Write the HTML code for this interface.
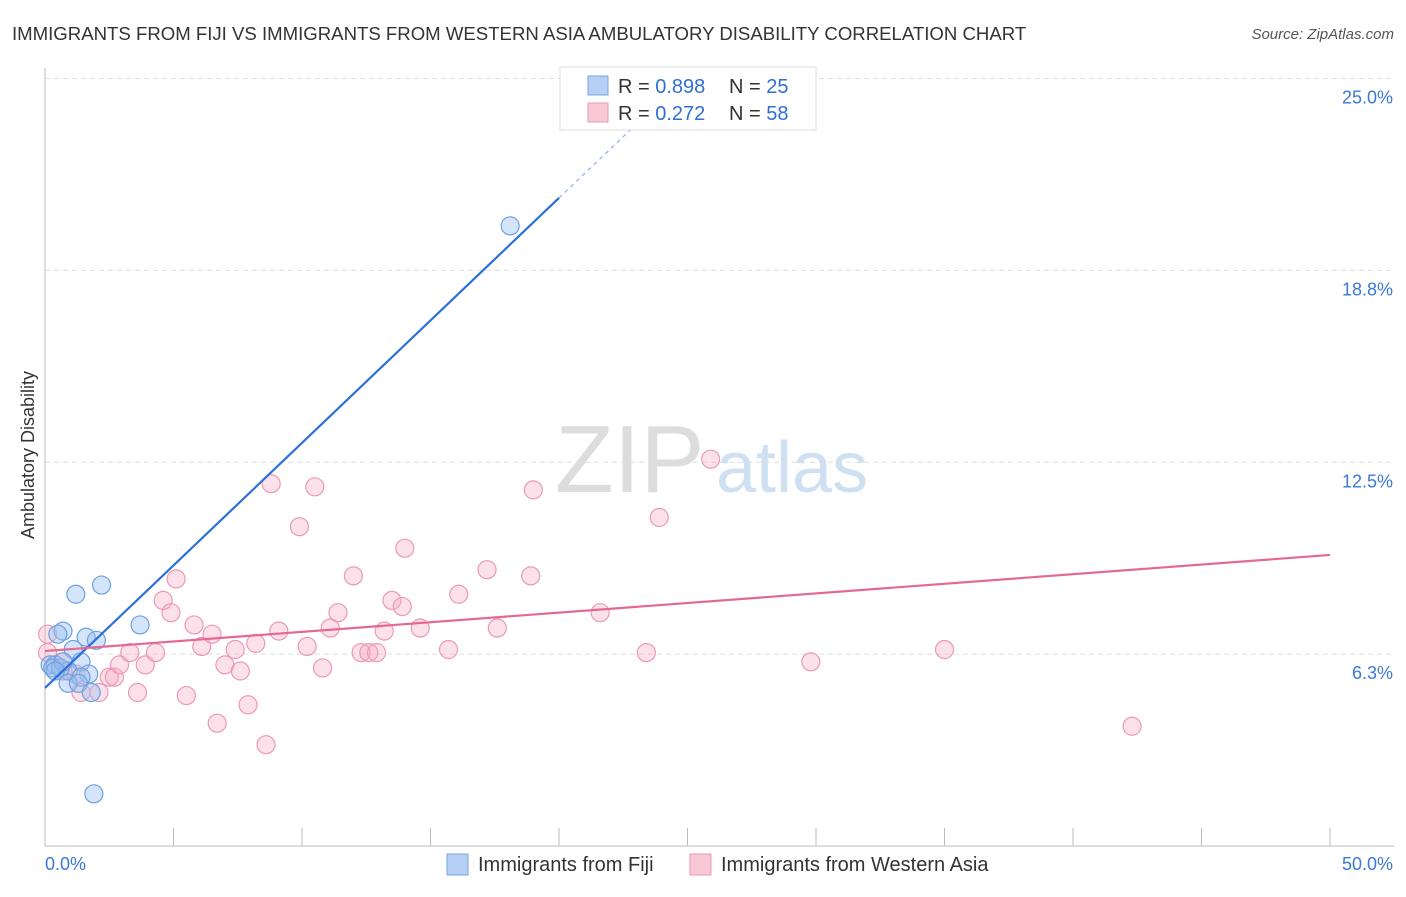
<!DOCTYPE html>
<html><head><meta charset="utf-8"><style>
body{margin:0;background:#fff;font-family:"Liberation Sans",sans-serif;}
svg text{font-family:"Liberation Sans",sans-serif;}
</style></head><body>
<svg id="c" width="1406" height="892">
<text x="12" y="40" font-size="18.6" fill="#333">IMMIGRANTS FROM FIJI VS IMMIGRANTS FROM WESTERN ASIA AMBULATORY DISABILITY CORRELATION CHART</text>
<text x="1394" y="39" font-size="15" fill="#555" font-style="italic" text-anchor="end">Source: ZipAtlas.com</text>
<text x="555" y="492" font-size="96" fill="#ddd" font-family="Liberation Serif">ZIP</text>
<text x="716" y="492" font-size="72" fill="#cfe0f3">atlas</text>
<text x="34" y="455" font-size="18" fill="#333" text-anchor="middle" transform="rotate(-90 34 455)">Ambulatory Disability</text>
<g id="grid"></g><g id="pts"></g><g id="lines"></g>
<g>
<rect x="560" y="67" width="256" height="63" fill="#fff" stroke="#ddd"/>
<rect x="588" y="76" width="20" height="19" fill="#b5cff5" stroke="#7aa3e0"/>
<rect x="588" y="103" width="20" height="19" fill="#f9c8d6" stroke="#e89ab0"/>
<text x="618" y="93" font-size="20" fill="#333">R = <tspan fill="#2f6fd6">0.898</tspan></text>
<text x="729" y="93" font-size="20" fill="#333">N = <tspan fill="#2f6fd6">25</tspan></text>
<text x="618" y="120" font-size="20" fill="#333">R = <tspan fill="#2f6fd6">0.272</tspan></text>
<text x="729" y="120" font-size="20" fill="#333">N = <tspan fill="#2f6fd6">58</tspan></text>
</g>
<g>
<rect x="447" y="854" width="21" height="21" fill="#b5cff5" stroke="#7aa3e0"/>
<text x="478" y="871" font-size="20" fill="#333">Immigrants from Fiji</text>
<rect x="690" y="854" width="21" height="21" fill="#f9c8d6" stroke="#e89ab0"/>
<text x="721" y="871" font-size="20" fill="#333">Immigrants from Western Asia</text>
</g>
</svg>
<script>
const yTicks=[6.3,12.5,18.8,25.0];
const yTickVals=[6.25,12.5,18.75,25];
const fijiX=[18.1,2.2,1.2,3.7,0.7,0.5,1.6,2.0,1.1,1.4,0.2,0.4,0.3,0.6,0.9,1.7,1.4,0.9,1.3,1.8,1.9,0.7,0.4];
const fijiY=[20.2,8.5,8.2,7.2,7.0,6.9,6.8,6.7,6.4,6.0,5.9,5.9,5.8,5.8,5.7,5.6,5.5,5.3,5.3,5.0,1.7,6.0,5.7];
const waX=[0.1,0.1,0.7,0.7,1.2,1.4,2.1,2.5,2.7,2.9,3.3,3.6,3.9,4.3,4.6,4.9,5.1,5.5,5.8,6.1,6.5,6.7,7.0,7.4,7.6,7.9,8.2,8.6,8.8,9.1,9.9,10.2,10.5,10.8,11.1,11.4,12.0,12.3,12.6,12.9,13.2,13.5,13.9,14.0,14.6,15.7,16.1,17.2,17.6,18.9,19.0,21.6,23.4,23.9,25.9,29.8,35.0,42.3];
const waY=[6.9,6.3,6.0,5.7,5.6,5.0,5.0,5.5,5.5,5.9,6.3,5.0,5.9,6.3,8.0,7.6,8.7,4.9,7.2,6.5,6.9,4.0,5.9,6.4,5.7,4.6,6.6,3.3,11.8,7.0,10.4,6.5,11.7,5.8,7.1,7.6,8.8,6.3,6.3,6.3,7.0,8.0,7.8,9.7,7.1,6.4,8.2,9.0,7.1,8.8,11.6,7.6,6.3,10.7,12.6,6.0,6.4,3.9];
const fijiLine=[0,5.15,0.798];
const waLine=[6.35,9.48];
const X=v=>45+v*25.7, Y=v=>846-v*30.7;
const NS='http://www.w3.org/2000/svg';
function mk(t,a,p){const e=document.createElementNS(NS,t);for(const k in a)e.setAttribute(k,a[k]);p.appendChild(e);return e;}
const svg=document.getElementById('c'),g=document.getElementById('grid'),pts=document.getElementById('pts'),ln=document.getElementById('lines');
mk('line',{x1:45,y1:68,x2:45,y2:846,stroke:'#bbb'},g);
mk('line',{x1:45,y1:846,x2:1394,y2:846,stroke:'#bbb'},g);
for(let i=0;i<=10;i++){const t=mk('line',{x1:X(i*5),x2:X(i*5),y1:846,y2:828,stroke:'#bbb'},g);}
yTickVals.forEach((v,i)=>{
 const l=mk('line',{x1:45,x2:1394,y1:Y(v),y2:Y(v),stroke:'#ddd','stroke-dasharray':'5,4'},g);
 
 
 const t=mk('text',{x:1393,y:Y(v)+25,'font-size':18,fill:'#3c78d8','text-anchor':'end'},g);t.textContent=yTicks[i].toFixed(1)+'%';
 
 
});
let t0=mk('text',{x:45,y:870,'font-size':18,fill:'#3c78d8'},g);t0.textContent='0.0%';


let t1=mk('text',{x:1393,y:870,'font-size':18,fill:'#3c78d8','text-anchor':'end'},g);t1.textContent='50.0%';


waX.forEach((x,i)=>{const c=mk('circle',{cx:X(x),cy:Y(waY[i]),r:9,fill:'rgba(247,170,195,0.35)',stroke:'#eb9ab3','stroke-width':1.2},pts);
 
 });
fijiX.forEach((x,i)=>{const c=mk('circle',{cx:X(x),cy:Y(fijiY[i]),r:9,fill:'rgba(150,190,240,0.4)',stroke:'#6f9fe0','stroke-width':1.2},pts);
 
 });
const fl=x=>fijiLine[1]+fijiLine[2]*x;
let a=mk('line',{x1:X(0),y1:Y(fl(0)),x2:X(20),y2:Y(fl(20)),stroke:'#2a70d8','stroke-width':2.2},ln);


let b=mk('line',{x1:X(20),y1:Y(fl(20)),x2:X(23.9),y2:Y(fl(23.9)),stroke:'#8ab0e8','stroke-width':1.2,'stroke-dasharray':'4,4'},ln);


let c=mk('line',{x1:X(0),y1:Y(waLine[0]),x2:X(50),y2:Y(waLine[1]),stroke:'#e5688f','stroke-width':2.2},ln);


</script>
</body></html>
